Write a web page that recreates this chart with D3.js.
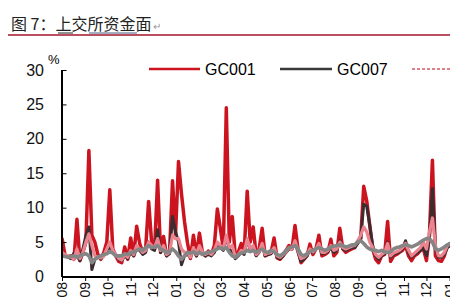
<!doctype html>
<html lang="en">
<head>
	<meta charset="UTF-8">
	<title>上交所资金面</title>
	<script src="https://d3js.org/d3.v7.min.js"></script>
	<style>
		body { margin:0; background:#fff; }
		text { font-family:"Liberation Sans", Arial, sans-serif; }
	</style>
</head>
<body>
	<div id="myDiv"></div>
<script>
// data, one value every 4 days starting 2011-08-01
var startDate = new Date(2011, 7, 1);
var stepDays = 4;
var monthLabels = ["08","09","10","11","12","01","02","03","04","05","06","07","08","09","10","11","12","01"];
var yTicks = [0,5,10,15,20,25,30];

var gc001 = [5.6,3.1,2.9,3.0,2.5,8.3,2.3,3.5,5.0,18.3,
	6.0,5.0,3.2,2.5,3.5,5.0,12.6,4.0,3.0,2.2,
	2.0,4.3,2.5,5.6,3.0,7.3,4.8,3.5,4.0,10.9,
	5.0,4.0,14.0,3.5,5.8,3.0,3.5,13.9,6.0,16.7,
	12.0,8.0,4.9,2.6,6.0,3.0,6.3,3.5,3.0,3.7,
	3.2,4.5,9.8,7.0,4.0,24.5,5.0,8.7,3.0,3.5,
	4.8,3.5,12.4,5.0,7.2,3.1,4.0,7.0,3.0,3.2,
	3.5,5.6,2.7,2.5,3.0,3.8,4.5,4.0,7.4,4.0,
	2.0,2.5,3.0,4.7,3.2,4.0,6.0,3.0,3.2,3.5,
	5.4,3.0,3.5,7.0,4.0,3.5,3.8,4.0,4.2,5.0,
	5.5,13.1,11.0,7.5,4.0,2.5,2.0,3.0,3.2,8.0,
	2.2,3.0,3.2,3.5,3.8,4.5,3.0,2.3,3.0,3.3,
	3.8,4.0,2.3,6.0,16.9,3.0,2.3,2.2,3.0,4.5,
	4.8,4.5,4.2];
var gc007 = [3.2,3.0,2.8,2.6,3.4,3.0,2.3,4.0,6.0,7.2,
	1.0,2.5,2.8,2.6,3.0,3.8,4.3,3.5,3.0,2.5,
	2.3,3.0,2.6,3.5,3.0,4.0,3.8,3.2,3.5,5.0,
	4.0,3.8,6.8,3.5,4.2,3.0,3.3,8.7,6.5,5.0,
	1.7,3.0,3.2,2.8,3.8,3.0,3.8,3.3,3.0,3.2,
	3.0,3.5,4.5,4.2,3.8,5.8,4.0,3.5,2.6,3.0,
	3.5,3.2,5.5,3.8,4.2,3.0,3.5,4.5,3.0,3.2,
	3.3,4.0,2.8,2.6,3.0,3.5,4.0,4.0,5.0,3.5,
	2.2,2.5,3.0,3.8,3.5,4.0,4.5,3.3,3.4,3.6,
	4.2,3.5,3.8,5.2,4.0,3.8,4.0,4.2,4.2,4.8,
	5.5,10.5,10.2,7.5,4.5,3.0,2.5,3.0,3.3,5.0,
	2.8,3.2,3.4,3.6,4.0,5.2,3.5,2.8,3.2,3.5,
	3.8,4.2,3.0,5.5,12.8,4.0,2.8,2.8,3.2,4.2,
	4.5,4.3,4.0];
var gc014 = [3.5,3.2,3.0,2.8,2.5,4.0,2.6,3.5,5.0,6.2,
	4.5,3.0,2.8,2.7,3.0,4.0,5.0,3.8,3.2,2.6,
	2.4,3.2,2.8,3.8,3.2,4.5,4.0,3.5,3.8,5.0,
	4.5,4.2,5.5,3.8,4.5,3.2,3.5,6.0,5.5,5.5,
	4.0,3.5,3.5,2.8,4.2,3.2,4.5,3.5,3.2,3.5,
	3.2,3.8,5.0,4.5,4.0,6.0,4.2,4.5,2.8,3.2,
	3.8,3.5,5.5,4.0,4.5,3.2,3.6,4.8,3.2,3.4,
	3.5,4.2,3.0,2.8,3.2,3.6,4.2,4.0,5.2,3.8,
	2.6,2.8,3.2,4.0,3.6,4.0,4.8,3.5,3.5,3.8,
	4.5,3.8,4.0,5.0,4.2,4.0,4.2,4.4,4.5,5.2,
	6.0,7.2,6.5,5.0,4.2,3.2,2.8,3.2,3.5,4.8,
	3.0,3.4,3.6,3.8,4.2,4.8,3.8,3.0,3.4,3.8,
	4.2,5.0,4.0,6.5,8.5,4.5,3.0,3.0,3.5,4.5,
	4.8,4.5,4.2];
var gc028 = [3.0,2.9,2.8,2.9,3.0,2.8,3.0,3.2,3.3,3.0,
	2.0,2.5,2.8,3.0,3.2,3.3,3.6,3.4,3.0,3.0,
	3.0,3.3,3.2,3.5,3.5,3.8,4.0,3.8,4.2,4.5,
	4.2,4.3,4.5,4.0,3.8,3.5,3.6,4.0,3.6,3.0,
	2.5,3.0,3.5,3.4,3.6,3.3,3.5,3.2,3.4,3.5,
	3.6,3.8,4.0,4.2,4.0,4.2,3.5,3.0,2.8,3.2,
	3.4,3.5,3.8,3.6,3.8,3.5,3.8,4.0,3.6,3.5,
	3.8,3.6,3.2,3.0,3.3,3.8,4.2,4.3,4.5,4.0,
	3.2,3.0,3.3,3.6,3.8,4.0,4.2,4.0,3.8,4.0,
	4.3,4.4,4.5,4.6,4.5,4.3,4.4,4.6,4.6,5.0,
	5.2,4.8,4.3,4.0,3.8,3.8,3.6,3.8,3.6,3.5,
	3.6,4.0,4.2,4.3,4.5,4.6,4.5,4.3,4.5,4.7,
	5.0,5.3,5.5,5.5,5.0,4.0,3.8,4.0,4.3,4.6,
	4.8,4.8,4.7];

var width = 450, height = 300;
var svg = d3.select("#myDiv").append("svg")
	.attr("width", width)
	.attr("height", height);

// title
var title = svg.append("text")
	.attr("x", 11).attr("y", 30)
	.style("font-family", "'Noto Sans CJK SC', sans-serif")
	.style("font-size", "16px")
	.attr("fill", "#222");
title.append("tspan").text("图 7：上交所资金面");
title.append("tspan").attr("fill", "#999").style("font-size", "10px").attr("dx", 2).text("↵");
svg.append("line").attr("x1", 58).attr("x2", 73).attr("y1", 33).attr("y2", 33).attr("stroke", "#222");
svg.append("line").attr("x1", 89).attr("x2", 137).attr("y1", 33).attr("y2", 33).attr("stroke", "#4a5a80");
svg.append("line").attr("x1", 8).attr("x2", width).attr("y1", 35).attr("y2", 35)
	.attr("stroke", "#a3162a").attr("stroke-width", 1.3);

// scales
var xScale = d3.scaleTime()
	.domain([startDate, new Date(2013, 0, 1)])
	.range([62, 449.6]);
var yScale = d3.scaleLinear()
	.domain([0, 30])
	.range([276.5, 70]);

var dates = gc001.map(function(d, i){ return d3.timeDay.offset(startDate, i * stepDays); });

// clip
svg.append("clipPath").attr("id", "clip")
	.append("rect").attr("x", 62).attr("y", 40).attr("width", 400).attr("height", 237);

var line = d3.line()
	.x(function(d, i){ return xScale(dates[i]); })
	.y(function(d){ return yScale(d); });

var series = [
	{ values: gc001, color: "#cc1420", w: 3.5 },
	{ values: gc007, color: "#3c2c30", w: 3 },
	{ values: gc014, color: "#ec8490", w: 3.2 },
	{ values: gc028, color: "#858585", w: 3.6 }
];
series.forEach(function(s){
	svg.append("path")
		.datum(s.values)
		.attr("clip-path", "url(#clip)")
		.attr("fill", "none")
		.attr("stroke", s.color)
		.attr("stroke-width", s.w)
		.attr("stroke-linejoin", "round")
		.attr("d", line);
});

// y axis
var yAxis = svg.append("g")
	.attr("transform", "translate(62,0)")
	.call(d3.axisRight(yScale).tickValues(yTicks).tickSize(4.5).tickFormat(""));
yAxis.select(".domain").attr("d", "M0,70V277").attr("stroke-width", 2);
svg.selectAll(".ylab").data(yTicks).enter().append("text")
	.attr("x", 44).attr("y", function(d){ return yScale(d) + 5.5; })
	.attr("text-anchor", "end")
	.style("font-size", "16px")
	.attr("fill", "#111")
	.text(function(d){ return d; });
svg.append("text").attr("x", 48).attr("y", 64)
	.style("font-size", "13px").text("%");

// x axis
var monthTicks = monthLabels.map(function(d, i){ return d3.timeMonth.offset(startDate, i); });
var xAxis = svg.append("g")
	.attr("transform", "translate(0,277)")
	.call(d3.axisBottom(xScale).tickValues(monthTicks).tickSizeOuter(0).tickSize(4).tickFormat(""));
xAxis.select(".domain").attr("stroke-width", 2).attr("d", "M62,0H" + width);
svg.selectAll(".xlab").data(monthTicks).enter().append("text")
	.attr("transform", function(d){ return "translate(" + (xScale(d) + 5) + ",282) rotate(-90)"; })
	.attr("text-anchor", "end")
	.style("font-size", "14px")
	.attr("fill", "#111")
	.text(function(d, i){ return monthLabels[i]; });

// legend
svg.append("line").attr("x1", 149).attr("x2", 200).attr("y1", 69).attr("y2", 69)
	.attr("stroke", "#cc1420").attr("stroke-width", 2.5);
svg.append("text").attr("x", 205).attr("y", 75).style("font-size", "16px").text("GC001");
svg.append("line").attr("x1", 280).attr("x2", 332).attr("y1", 69).attr("y2", 69)
	.attr("stroke", "#3a3a3a").attr("stroke-width", 2.5);
svg.append("text").attr("x", 337).attr("y", 75).style("font-size", "16px").text("GC007");
svg.append("line").attr("x1", 412).attr("x2", 462).attr("y1", 69).attr("y2", 69)
	.attr("stroke", "#e08088").attr("stroke-width", 2).attr("stroke-dasharray", "3,2");
</script>
</body>
</html>
